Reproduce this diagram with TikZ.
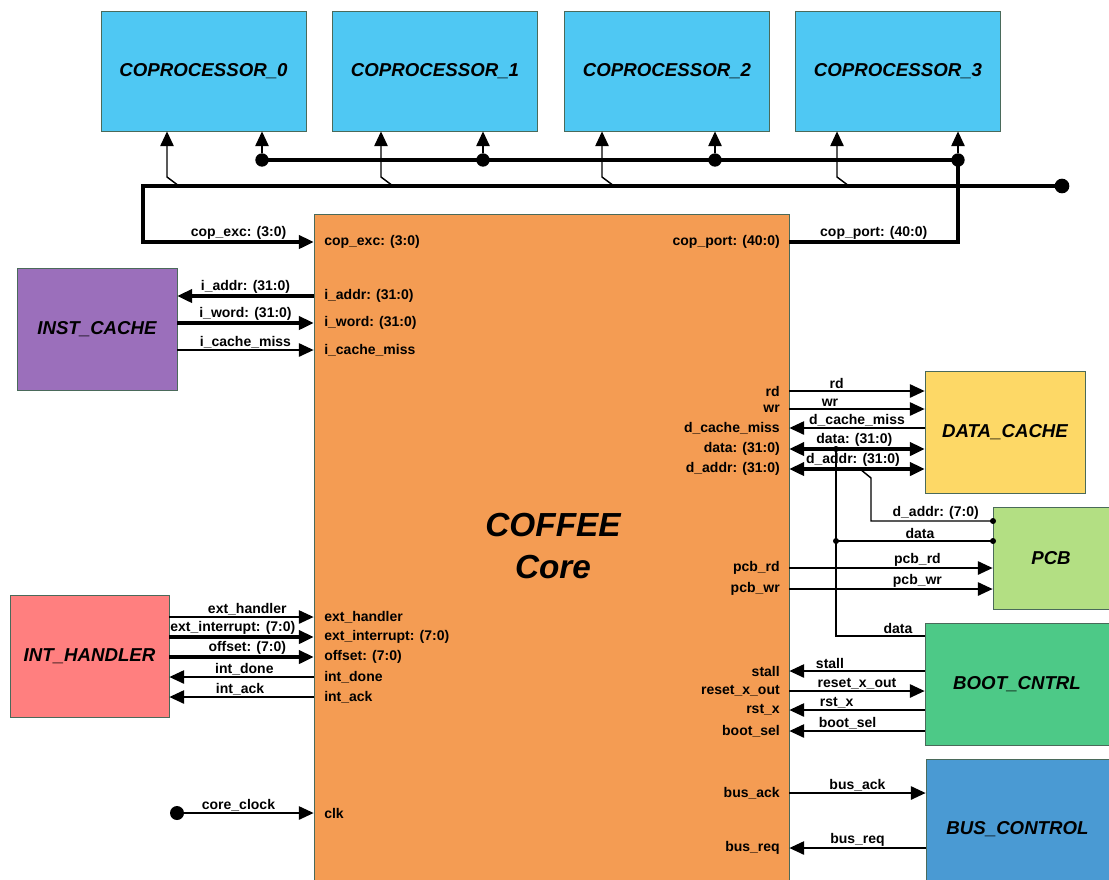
\documentclass[tikz,border=0pt]{standalone}
\usepackage{fontspec}
\setmainfont{Liberation Sans}
\usetikzlibrary{arrows.meta}

\definecolor{copblue}{HTML}{4FC8F3}
\definecolor{coreorange}{HTML}{F49C53}
\definecolor{instpurple}{HTML}{9B6FBB}
\definecolor{dataorange}{HTML}{FDD866}
\definecolor{pcbgreen}{HTML}{B3DF83}
\definecolor{bootgreen}{HTML}{4DC987}
\definecolor{busblue}{HTML}{4A9AD3}
\definecolor{intred}{HTML}{FF7F7F}
\definecolor{edgegray}{HTML}{4A6A5A}

\tikzset{
    unit/.style={draw=edgegray, line width=0.6pt, inner sep=0pt,
        font=\fontsize{14}{16}\selectfont\bfseries\itshape},
    port/.style={inner sep=0pt, font=\fontsize{10.5}{12}\selectfont\bfseries},
    lbl/.style={above, inner sep=1pt, font=\fontsize{10.5}{12}\selectfont\bfseries},
    wire/.style={line width=1.1pt},
    busw/.style={line width=2.3pt},
    bdot/.style={circle, fill=black, inner sep=0pt, minimum size=10pt},
    sdot/.style={circle, fill=black, inner sep=0pt, minimum size=4.5pt}
}

\begin{document}
\begin{tikzpicture}[x=0.75pt, y=-0.75pt, >={Triangle[length=11pt,width=10pt]}]
    \useasboundingbox (0,0) rectangle (1109,879);
    \clip (0,0) rectangle (1109,879);

    % units
    \node[unit, fill=copblue, minimum width=153.75pt, minimum height=90pt] (cop0) at (203.5,71) {COPROCESSOR\_0};
    \node[unit, fill=copblue, minimum width=153.75pt, minimum height=90pt] (cop1) at (435,71) {COPROCESSOR\_1};
    \node[unit, fill=copblue, minimum width=153.75pt, minimum height=90pt] (cop2) at (667,71) {COPROCESSOR\_2};
    \node[unit, fill=copblue, minimum width=153.75pt, minimum height=90pt] (cop3) at (898,71) {COPROCESSOR\_3};
    \node[unit, fill=coreorange, minimum width=356.25pt, minimum height=501.75pt] (core) at (551.5,548.5) {};
    \node[font=\fontsize{25}{31.5}\selectfont\bfseries\itshape, align=center] (title) at (553,546) {COFFEE\\Core};
    \node[unit, fill=instpurple, minimum width=120pt, minimum height=91.5pt] (icache) at (97,329) {INST\_CACHE};
    \node[unit, fill=dataorange, minimum width=120pt, minimum height=91.5pt] (dcache) at (1005,432) {DATA\_CACHE};
    \node[unit, fill=pcbgreen, minimum width=87pt, minimum height=76.5pt] (pcb) at (1051,558) {PCB};
    \node[unit, fill=bootgreen, minimum width=138pt, minimum height=91.5pt] (boot) at (1017,684) {BOOT\_CNTRL};
    \node[unit, fill=busblue, minimum width=137.25pt, minimum height=105.75pt] (busc) at (1017.5,829.5) {BUS\_CONTROL};
    \node[unit, fill=intred, minimum width=119.25pt, minimum height=91.5pt] (inth) at (89.5,656) {INT\_HANDLER};

    % core ports, left
    \node[port, anchor=west] (pcopexc) at (324,242) {cop\_exc: (3:0)};
    \node[port, anchor=west] (piaddr) at (324,296) {i\_addr: (31:0)};
    \node[port, anchor=west] (piword) at (324,323) {i\_word: (31:0)};
    \node[port, anchor=west] (pimiss) at (324,350) {i\_cache\_miss};
    \node[port, anchor=west] (pexth) at (324,617) {ext\_handler};
    \node[port, anchor=west] (pexti) at (324,637) {ext\_interrupt: (7:0)};
    \node[port, anchor=west] (poff) at (324,657) {offset: (7:0)};
    \node[port, anchor=west] (pdone) at (324,677) {int\_done};
    \node[port, anchor=west] (pack) at (324,697) {int\_ack};
    \node[port, anchor=west] (pclk) at (324,813) {clk};

    % core ports, right
    \node[port, anchor=east] (pcopport) at (780,242) {cop\_port: (40:0)};
    \node[port, anchor=east] (prd) at (780,391) {rd};
    \node[port, anchor=east] (pwr) at (780,409) {wr};
    \node[port, anchor=east] (pdmiss) at (780,428) {d\_cache\_miss};
    \node[port, anchor=east] (pdata) at (780,449) {data: (31:0)};
    \node[port, anchor=east] (pdaddr) at (780,469) {d\_addr: (31:0)};
    \node[port, anchor=east] (ppcbrd) at (780,568) {pcb\_rd};
    \node[port, anchor=east] (ppcbwr) at (780,589) {pcb\_wr};
    \node[port, anchor=east] (pstall) at (780,671) {stall};
    \node[port, anchor=east] (preset) at (780,691) {reset\_x\_out};
    \node[port, anchor=east] (prstx) at (780,710) {rst\_x};
    \node[port, anchor=east] (pboot) at (780,731) {boot\_sel};
    \node[port, anchor=east] (pbusack) at (780,793) {bus\_ack};
    \node[port, anchor=east] (pbusreq) at (780,848) {bus\_req};

    % coprocessor buses
    \node[bdot] (j0) at (262,160) {};
    \node[bdot] (j1) at (483,160) {};
    \node[bdot] (j2) at (715,160) {};
    \node[bdot] (j3) at (958,160) {};
    \node[bdot, minimum size=11pt] (jend) at (1062,186) {};
    \coordinate (bl) at (143,186);
    \draw[busw] (j0.center) -- (j3.center);
    \foreach \i in {0,...,3}
        \draw[wire,->] (j\i) -- (j\i |- cop\i.south);
    \draw[busw] (j3.center) |- (core.east |- pcopport) node[pos=0.75, lbl] {cop\_port: (40:0)};
    \draw[busw,->] (jend.center) -- (bl) |- (core.west |- pcopexc) node[pos=0.78, lbl] {cop\_exc: (3:0)};
    \foreach \i/\x in {0/167,1/381,2/602,3/837} {
        \coordinate (tap\i) at (\x+12,186);
        \draw[wire,->] (tap\i) -- ++(-12,-9) coordinate (bend\i) -- (bend\i |- cop\i.south);
    }

    % instruction cache
    \draw[busw,->] (core.west |- piaddr) -- (icache.east |- piaddr) node[midway, lbl] {i\_addr: (31:0)};
    \draw[busw,->] (icache.east |- piword) -- (core.west |- piword) node[midway, lbl] {i\_word: (31:0)};
    \draw[wire,->] (icache.east |- pimiss) -- (core.west |- pimiss) node[midway, lbl] {i\_cache\_miss};

    % data cache
    \draw[wire,->] (core.east |- prd) -- (dcache.west |- prd) node[pos=0.35, lbl] {rd};
    \draw[wire,->] (core.east |- pwr) -- (dcache.west |- pwr) node[pos=0.3, lbl] {wr};
    \draw[wire,->] (dcache.west |- pdmiss) -- (core.east |- pdmiss) node[midway, lbl] {d\_cache\_miss};
    \draw[busw,<->] (core.east |- pdata) -- (dcache.west |- pdata) node[pos=0.48, lbl] {data: (31:0)};
    \draw[busw,<->] (core.east |- pdaddr) -- (dcache.west |- pdaddr) node[pos=0.47, lbl] {d\_addr: (31:0)};

    % data and address taps to PCB and BOOT_CNTRL
    \node[sdot] (jd) at (836,449) {};
    \node[sdot] (jp) at (836,541) {};
    \node[sdot] (pd0) at (993,521) {};
    \node[sdot] (pd1) at (993,541) {};
    \coordinate (da) at (860,469);
    \coordinate (yb) at (0,636);
    \draw[wire] (jd.center) |- (boot.west |- yb) node[pos=0.85, lbl] {data};
    \draw[wire] (jp.center) -- (pd1.center) node[pos=0.535, lbl] {data};
    \draw[wire] (da) -- ++(11,9) |- (pd0.center) node[pos=0.765, lbl] {d\_addr: (7:0)};

    % PCB
    \draw[wire,->] (core.east |- ppcbrd) -- (pcb.west |- ppcbrd) node[pos=0.63, lbl] {pcb\_rd};
    \draw[wire,->] (core.east |- ppcbwr) -- (pcb.west |- ppcbwr) node[pos=0.63, lbl] {pcb\_wr};

    % boot controller
    \draw[wire,->] (boot.west |- pstall) -- (core.east |- pstall) node[pos=0.7, lbl] {stall};
    \draw[wire,->] (core.east |- preset) -- (boot.west |- preset) node[midway, lbl] {reset\_x\_out};
    \draw[wire,->] (boot.west |- prstx) -- (core.east |- prstx) node[pos=0.65, lbl] {rst\_x};
    \draw[wire,->] (boot.west |- pboot) -- (core.east |- pboot) node[pos=0.57, lbl] {boot\_sel};

    % bus control
    \draw[wire,->] (core.east |- pbusack) -- (busc.west |- pbusack) node[midway, lbl] {bus\_ack};
    \draw[wire,->] (busc.west |- pbusreq) -- (core.east |- pbusreq) node[midway, lbl] {bus\_req};

    % interrupt handler
    \draw[wire,->] (inth.east |- pexth) -- (core.west |- pexth) node[pos=0.54, lbl] {ext\_handler};
    \draw[busw,->] (inth.east |- pexti) -- (core.west |- pexti) node[pos=0.44, lbl] {ext\_interrupt: (7:0)};
    \draw[busw,->] (inth.east |- poff) -- (core.west |- poff) node[pos=0.54, lbl] {offset: (7:0)};
    \draw[wire,->] (core.west |- pdone) -- (inth.east |- pdone) node[pos=0.48, lbl] {int\_done};
    \draw[wire,->] (core.west |- pack) -- (inth.east |- pack) node[pos=0.51, lbl] {int\_ack};

    % clock
    \node[bdot, minimum size=10.5pt] (clk0) at (177,813) {};
    \draw[wire,->] (clk0.center) -- (core.west |- pclk) node[pos=0.45, lbl] {core\_clock};
\end{tikzpicture}
\end{document}
